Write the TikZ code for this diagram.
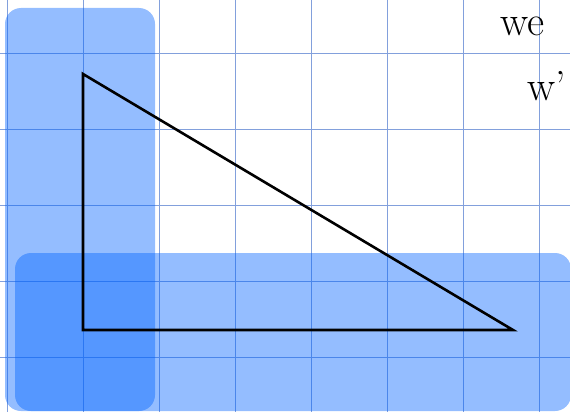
\documentclass[tikz,border=0pt]{standalone}
\begin{document}
\begin{tikzpicture}[x=1pt,y=-1pt,
  gridline/.style={draw=gridblue,line width=0.8pt},
  hlband/.style={fill=bandblue,fill opacity=0.42,rounded corners=16pt},
  tri/.style={draw=black,line width=2.6pt,line join=miter},
  hand/.style={font=\fontsize{42}{42}\selectfont,inner sep=0pt,anchor=base west}]
\definecolor{gridblue}{RGB}{130,160,220}
\definecolor{bandblue}{RGB}{0,100,255}
\useasboundingbox (0,0) rectangle (570,412);
\clip (0,0) rectangle (570,412);
\fill[white] (0,0) rectangle (570,412);
% grid
\foreach \x in {7,83,159,235,311,387,463,539} \draw[gridline] (\x,0) -- (\x,412);
\foreach \y in {53,129,205,281,357} \draw[gridline] (0,\y) -- (570,\y);
% highlight bands
\fill[hlband] (5,8) rectangle (155,411);
\fill[hlband] (15,253) rectangle (571,411);
% triangle
\draw[tri] (83,74) -- (83,330) -- (513,330) -- cycle;
% handwritten text
\node[hand] (t1) at (500,36) {we};
\node[hand] (t2) at (527,100) {w'};
\end{tikzpicture}
\end{document}
